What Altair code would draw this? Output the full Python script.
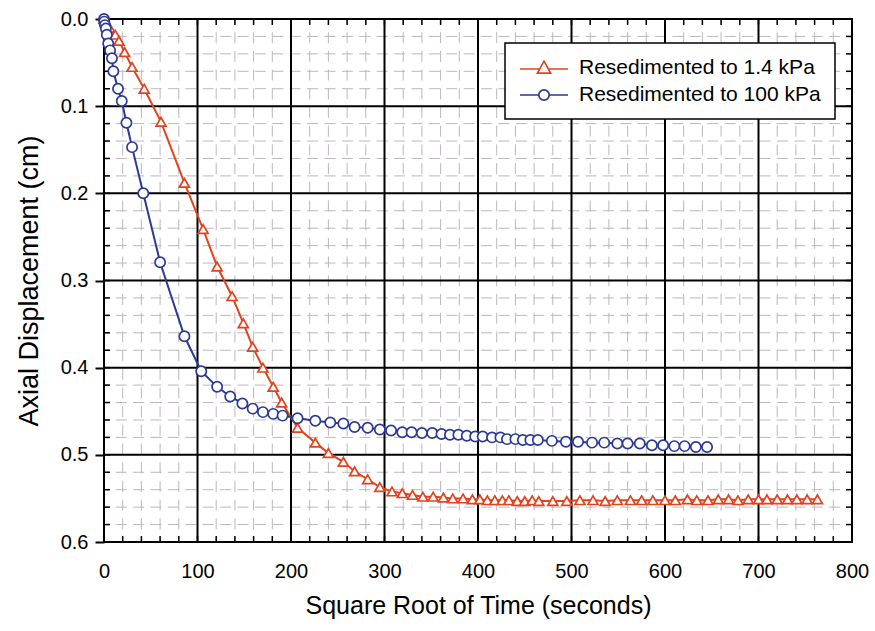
import altair as alt
import pandas as pd

# ---------------- data ----------------
series_names = ["Resedimented to 1.4 kPa", "Resedimented to 100 kPa"]

red_x = [0, 6, 12, 16, 22, 30, 43, 61, 86, 106, 121, 137, 149, 159, 170, 181, 190,
         207, 226, 240, 256, 268, 282, 295, 308, 319, 330, 341, 352, 363, 373, 384,
         394, 402, 410, 418, 426, 433, 442, 450, 458, 465, 480, 495, 509, 523, 536,
         549, 563, 575, 587, 600, 611, 624, 634, 646, 657, 668, 678, 689, 700, 709,
         720, 731, 741, 752, 763]
red_y = [0.000, 0.010, 0.018, 0.025, 0.038, 0.055, 0.080, 0.118, 0.188, 0.241, 0.284,
         0.318, 0.349, 0.376, 0.400, 0.422, 0.440, 0.469, 0.486, 0.498, 0.508, 0.519,
         0.528, 0.537, 0.542, 0.544, 0.546, 0.548, 0.548, 0.549, 0.550, 0.550, 0.551,
         0.551, 0.552, 0.552, 0.552, 0.552, 0.553, 0.553, 0.552, 0.553, 0.553, 0.553,
         0.552, 0.552, 0.553, 0.552, 0.552, 0.552, 0.552, 0.552, 0.552, 0.551, 0.552,
         0.552, 0.551, 0.551, 0.552, 0.551, 0.551, 0.551, 0.551, 0.551, 0.551, 0.551,
         0.551]

blue_x = [0, 0.3, 1, 2, 3, 4.5, 6.5, 8.5, 10, 15, 19, 24, 30, 42, 60, 86, 104, 121,
          135, 148, 159, 170, 181, 191, 207, 226, 242, 256, 268, 282, 295, 307, 319,
          329, 340, 351, 361, 370, 379, 388, 397, 405, 415, 424, 431, 440, 448, 456,
          464, 479, 494, 507, 522, 535, 549, 560, 573, 586, 598, 610, 621, 633, 645]
blue_y = [0.000, 0.003, 0.007, 0.011, 0.018, 0.028, 0.036, 0.045, 0.060, 0.080, 0.094,
          0.119, 0.147, 0.200, 0.279, 0.364, 0.404, 0.422, 0.433, 0.441, 0.447, 0.451,
          0.453, 0.455, 0.458, 0.461, 0.463, 0.464, 0.468, 0.469, 0.471, 0.472, 0.474,
          0.474, 0.475, 0.475, 0.476, 0.477, 0.477, 0.478, 0.479, 0.479, 0.480, 0.480,
          0.482, 0.482, 0.483, 0.483, 0.483, 0.484, 0.485, 0.485, 0.486, 0.486, 0.487,
          0.487, 0.487, 0.489, 0.489, 0.490, 0.490, 0.491, 0.491]

x_major = [0, 100, 200, 300, 400, 500, 600, 700, 800]
y_major = [0.0, 0.1, 0.2, 0.3, 0.4, 0.5, 0.6]
x_minor = [v for v in range(20, 800, 20) if v % 100 != 0]
y_minor = [round(0.02 * i, 2) for i in range(1, 30) if i % 5 != 0]
x_ticks_all = list(range(0, 801, 20))
y_ticks_all = [round(0.02 * i, 2) for i in range(0, 31)]

RED = "#E2431F"
BLUE = "#2B3A94"
FONT = "Liberation Sans"
W, H = 748, 523

red_df = pd.DataFrame({"x": red_x, "y": red_y, "series": series_names[0]})
blue_df = pd.DataFrame({"x": blue_x, "y": blue_y, "series": series_names[1]})

xs = alt.Scale(domain=[0, 800], nice=False, zero=False)
ys = alt.Scale(domain=[0, 0.6], reverse=True, nice=False, zero=False)

x_axis = alt.Axis(values=x_major, title="Square Root of Time (seconds)", grid=False,
                  ticks=False, domain=False, labelFont=FONT, labelFontSize=20,
                  labelColor="black", labelPadding=19, labelFlush=False,
                  labelOverlap=False, titleFont=FONT, titleFontSize=25,
                  titleFontWeight="normal", titleColor="black", titlePadding=12)
y_axis = alt.Axis(values=y_major, format=".1f", title="Axial Displacement (cm)",
                  grid=False, tickSize=9, tickWidth=2, tickColor="black", domain=False,
                  labelFont=FONT, labelFontSize=20, labelColor="black", labelPadding=7,
                  labelFlush=False, labelOverlap=False, titleFont=FONT, titleFontSize=27,
                  titleFontWeight="normal", titleColor="black", titlePadding=17)


def X(field):
    return alt.X(field, scale=xs, axis=x_axis, title="Square Root of Time (seconds)")


def Y(field):
    return alt.Y(field, scale=ys, axis=y_axis, title="Axial Displacement (cm)")


gx_minor = pd.DataFrame({"gx": x_minor})
gy_minor = pd.DataFrame({"gy": y_minor})
gx_major = pd.DataFrame({"gx": x_major})
gy_major = pd.DataFrame({"gy": y_major})
tx = pd.DataFrame({"gx": x_ticks_all})
ty = pd.DataFrame({"gy": y_ticks_all})

minor_v = alt.Chart(gx_minor).mark_rule(color="#bdb6bf", strokeWidth=1,
                                        strokeDash=[11, 7.7], strokeDashOffset=5.5).encode(
    x=X("gx:Q"))
minor_h = alt.Chart(gy_minor).mark_rule(color="#bdb6bf", strokeWidth=1,
                                        strokeDash=[11, 6.4], strokeDashOffset=5.5).encode(
    y=Y("gy:Q"))
major_v = alt.Chart(gx_major).mark_rule(color="black", strokeWidth=2).encode(x=X("gx:Q"))
major_h = alt.Chart(gy_major).mark_rule(color="black", strokeWidth=2).encode(y=Y("gy:Q"))

tick_b = alt.Chart(tx).mark_rule(color="black", strokeWidth=1.5).encode(
    x=X("gx:Q"), y=alt.value(H), y2=alt.value(H - 6))
tick_t = alt.Chart(tx).mark_rule(color="black", strokeWidth=1.5).encode(
    x=X("gx:Q"), y=alt.value(0), y2=alt.value(6))
tick_l = alt.Chart(ty).mark_rule(color="black", strokeWidth=1.5).encode(
    y=Y("gy:Q"), x=alt.value(0), x2=alt.value(6))
tick_r = alt.Chart(ty).mark_rule(color="black", strokeWidth=1.5).encode(
    y=Y("gy:Q"), x=alt.value(W), x2=alt.value(W - 6))

red_line = alt.Chart(red_df).mark_line(color=RED, strokeWidth=2).encode(
    x=X("x:Q"), y=Y("y:Q"))
blue_line = alt.Chart(blue_df).mark_line(color=BLUE, strokeWidth=2).encode(
    x=X("x:Q"), y=Y("y:Q"))
red_pts = alt.Chart(red_df).mark_point(shape="triangle-up", size=100, filled=True,
                                       fill="white", stroke=RED, strokeWidth=1.7,
                                       opacity=1).encode(x=X("x:Q"), y=Y("y:Q"))
blue_pts = alt.Chart(blue_df).mark_point(shape="circle", size=105, filled=True,
                                         fill="white", stroke=BLUE, strokeWidth=1.7,
                                         opacity=1).encode(x=X("x:Q"), y=Y("y:Q"))

# legend (symbols = line + marker)
tri_sym = ("M-2.4,0.1L-0.45,0.1M0.45,0.1L2.4,0.1"
           "M0,-0.68L0.66,0.52L-0.66,0.52Z")
circ_sym = ("M-2.4,0L-0.52,0M0.52,0L2.4,0"
            "M0.52,0A0.52,0.52,0,1,1,-0.52,0A0.52,0.52,0,1,1,0.52,0Z")
leg_df = pd.DataFrame({"series": series_names, "x": [None, None], "y": [None, None]})
leg = alt.Legend(title=None, orient="none", legendX=401, legendY=24, padding=14,
                 fillColor="white", strokeColor="black", labelFont=FONT,
                 labelFontSize=21, labelColor="black", labelLimit=500, symbolSize=400,
                 symbolStrokeWidth=1.7, symbolFillColor="white", symbolOpacity=1,
                 symbolOffset=14, labelOffset=24, rowPadding=6)
legend_layer = alt.Chart(leg_df).mark_point(filled=True, fill="white", strokeWidth=1.7).encode(
    x=X("x:Q"), y=Y("y:Q"),
    stroke=alt.Stroke("series:N", scale=alt.Scale(domain=series_names, range=[RED, BLUE]),
                      legend=leg),
    shape=alt.Shape("series:N", scale=alt.Scale(domain=series_names,
                                                range=[tri_sym, circ_sym]), legend=leg))

chart = alt.layer(minor_v, minor_h, major_v, major_h, tick_b, tick_t, tick_l, tick_r,
                  red_line, blue_line, red_pts, blue_pts, legend_layer).properties(
    width=W, height=H,
    padding={"left": 104, "top": 19, "right": 23, "bottom": 89},
    autosize=alt.AutoSizeParams(type="none"),
    background="white",
).configure_view(stroke="black", strokeWidth=2).configure_legend(strokeWidth=1.5)

chart.save("out.html", embed_options={"renderer": "svg", "actions": False})
